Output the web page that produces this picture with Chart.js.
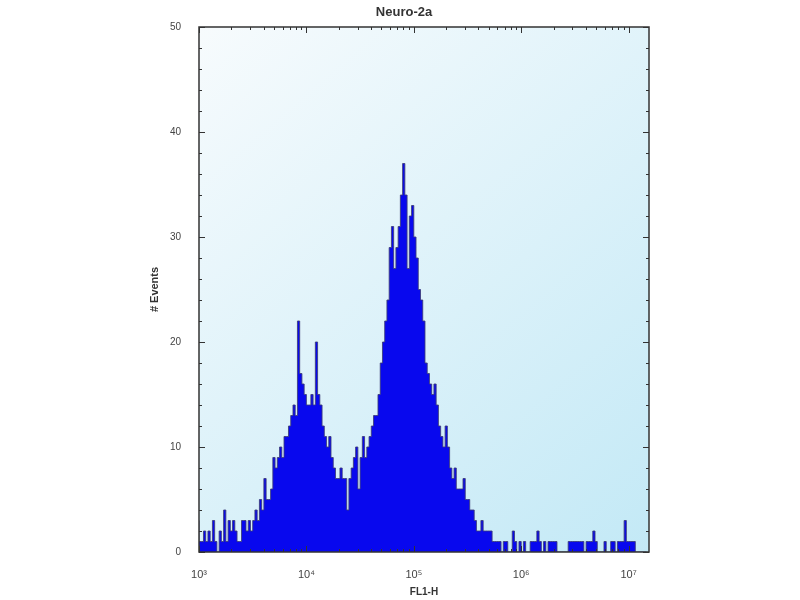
<!DOCTYPE html>
<html>
<head>
<meta charset="utf-8">
<script src="https://cdn.jsdelivr.net/npm/chart.js@4.4.1/dist/chart.umd.min.js"></script>
<style>
  body { margin: 0; background: #fff; }
</style>
</head>
<body>
<canvas id="myChart" width="800" height="600"></canvas>
<script>
// flow histogram, Neuro-2a, FL1-H channel
const chartTitle = 'Neuro-2a';
const xTitle = 'FL1-H';
const yTitle = '# Events';
const decades = [3, 4, 5, 6, 7];
const decadeLabels = ['10³', '10⁴', '10⁵', '10⁶', '10⁷'];
const yMax = 50;
const xMaxExp = 7.19;
const binsPerDecade = 48;

// events per channel (48 channels per decade, from 10^3)
const counts = [
  3, 1, 1, 2, 1, 2, 1, 3, 1, 0,
  2, 1, 4, 1, 3, 2, 3, 2, 1, 1,
  3, 3, 2, 3, 2, 3, 4, 3, 5, 4,
  7, 5, 5, 6, 9, 8, 9, 10, 9, 11,
  11, 12, 13, 14, 13, 22, 17, 16, 15, 14,
  14, 15, 14, 20, 15, 14, 12, 11, 10, 11,
  9, 8, 7, 7, 8, 7, 7, 4, 7, 8,
  9, 10, 6, 9, 11, 9, 10, 11, 12, 13,
  13, 15, 18, 20, 22, 24, 29, 31, 27, 29,
  31, 34, 37, 34, 27, 32, 33, 30, 28, 25,
  24, 22, 18, 17, 16, 15, 16, 14, 12, 11,
  10, 12, 10, 8, 7, 8, 6, 6, 6, 7,
  5, 5, 4, 4, 3, 2, 2, 3, 2, 2,
  2, 2, 1, 1, 1, 1, 0, 1, 1, 0,
  0, 2, 1, 0, 1, 0, 1, 0, 0, 1,
  1, 1, 2, 1, 0, 1, 0, 1, 1, 1,
  1, 0, 0, 0, 0, 0, 1, 1, 1, 1,
  1, 1, 1, 0, 1, 1, 1, 2, 1, 0,
  0, 0, 1, 0, 0, 1, 1, 0, 1, 1,
  1, 3, 1, 1, 1, 1, 0, 0, 0, 0
];

// left edge of each channel on the log axis
let points = counts.map((c, i) => ({ x: Math.pow(10, decades[0] + i / binsPerDecade), y: c }));
points.push({ x: Math.pow(10, decades[0] + counts.length / binsPerDecade), y: 0 });

const plotBackground = {
  id: 'plotBackground',
  beforeDraw(chart) {
    const { ctx, chartArea: a } = chart;
    ctx.save();
    ctx.fillStyle = '#fff';
    ctx.fillRect(0, 0, chart.width, chart.height);
    const g = ctx.createLinearGradient(a.left, a.top, a.right, a.bottom);
    g.addColorStop(0, '#f7fbfd');
    g.addColorStop(1, '#c3e9f6');
    ctx.fillStyle = g;
    ctx.fillRect(a.left, a.top, a.right - a.left, a.bottom - a.top);
    ctx.restore();
  }
};

// box with inward tick marks on all four sides, plus the title
const frameTicks = {
  id: 'frameTicks',
  afterDraw(chart) {
    const { ctx, chartArea: a, scales } = chart;
    ctx.save();
    ctx.strokeStyle = '#333';
    ctx.lineWidth = 1;
    ctx.beginPath();
    for (let v = 0; v <= yMax; v += 2) {
      const y = Math.round(scales.y.getPixelForValue(v)) + 0.5;
      const len = v % 10 === 0 ? 6 : 3;
      ctx.moveTo(a.left, y); ctx.lineTo(a.left + len, y);
      ctx.moveTo(a.right, y); ctx.lineTo(a.right - len, y);
    }
    decades.forEach(d => {
      for (let m = 1; m < 10; m++) {
        const v = m * Math.pow(10, d);
        if (v > scales.x.max) break;
        const x = Math.round(scales.x.getPixelForValue(v)) + 0.5;
        const len = m === 1 ? 6 : 3;
        ctx.moveTo(x, a.bottom); ctx.lineTo(x, a.bottom - len);
        ctx.moveTo(x, a.top); ctx.lineTo(x, a.top + len);
      }
    });
    ctx.stroke();
    ctx.lineWidth = 1.5;
    ctx.strokeRect(a.left, a.top, a.right - a.left, a.bottom - a.top);

    ctx.fillStyle = '#333';
    ctx.font = 'bold 13px "Liberation Sans", Arial, sans-serif';
    ctx.textAlign = 'center';
    ctx.textBaseline = 'middle';
    ctx.fillText(chartTitle, a.left + 205, 12);
    ctx.restore();
  }
};

const ctx = document.getElementById('myChart').getContext('2d');
const myChart = new Chart(ctx, {
  type: 'line',
  data: {
    datasets: [{
      label: 'FL1-H',
      data: points,
      stepped: 'after',
      fill: 'origin',
      backgroundColor: 'rgb(8, 8, 238)',
      borderColor: 'rgba(60, 60, 120, 0.85)',
      borderWidth: 1,
      pointRadius: 0
    }]
  },
  options: {
    responsive: false,
    animation: false,
    layout: {
      padding: { top: 27, right: 151, left: 0, bottom: 0 }
    },
    plugins: {
      legend: { display: false },
      tooltip: { enabled: false }
    },
    scales: {
      x: {
        type: 'logarithmic',
        min: Math.pow(10, decades[0]),
        max: Math.pow(10, xMaxExp),
        grid: { display: false },
        border: { display: false },
        afterBuildTicks(scale) {
          scale.ticks = decades.map(d => ({ value: Math.pow(10, d) }));
        },
        afterFit(scale) { scale.height = 48; },
        ticks: {
          autoSkip: false,
          maxRotation: 0,
          padding: 8,
          color: '#444',
          font: { family: '"Liberation Sans", Arial, sans-serif', size: 11 },
          callback(value) {
            const i = decades.indexOf(Math.round(Math.log10(value)));
            return i >= 0 ? decadeLabels[i] : '';
          }
        },
        title: {
          display: true,
          text: xTitle,
          color: '#333',
          padding: { top: 0, bottom: 2 },
          font: { family: '"Liberation Sans", Arial, sans-serif', size: 10, weight: 'bold' }
        }
      },
      y: {
        min: 0,
        max: yMax,
        grid: { display: false },
        border: { display: false },
        afterFit(scale) { scale.width = 199; },
        ticks: {
          stepSize: 10,
          padding: 10,
          color: '#444',
          font: { family: '"Liberation Sans", Arial, sans-serif', size: 10 }
        },
        title: {
          display: true,
          text: yTitle,
          color: '#333',
          padding: { top: 148, bottom: 0 },
          font: { family: '"Liberation Sans", Arial, sans-serif', size: 11, weight: 'bold' }
        }
      }
    }
  },
  plugins: [plotBackground, frameTicks]
});
</script>
</body>
</html>
